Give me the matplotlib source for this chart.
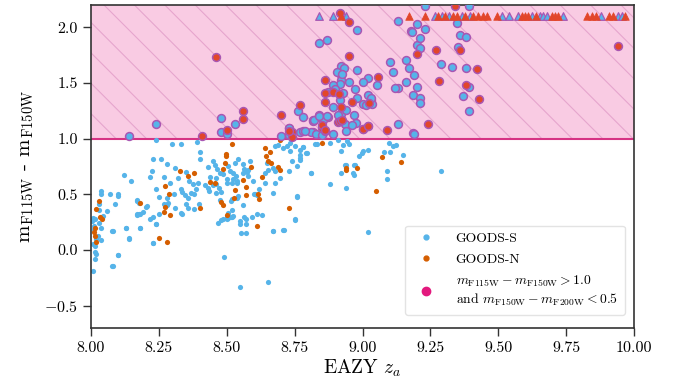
import numpy as np
import matplotlib
matplotlib.use("Agg")
import matplotlib.pyplot as plt
from matplotlib.lines import Line2D

plt.rcParams["font.family"] = "serif"
plt.rcParams["font.serif"] = ["cmr10"]
plt.rcParams["mathtext.fontset"] = "cm"
plt.rcParams["axes.formatter.use_mathtext"] = True

# --- GOODS-S (below the colour cut) ---
s_z = [8.24, 8.30, 8.33, 8.39, 8.40, 8.40, 8.228, 8.259, 8.28, 8.226, 8.217, 8.12, 8.149, 8.269,
       8.319, 8.241, 8.251, 8.279, 8.306, 8.284, 8.33, 8.335, 8.345, 8.357, 8.367, 8.38, 8.388,
       8.377, 8.395, 8.357, 8.38, 8.398, 8.171, 8.176, 8.204, 8.19, 8.219, 8.24, 8.177, 8.17,
       8.179, 8.129, 8.139, 8.228, 8.038, 8.038, 8.069, 8.10, 8.10, 8.09, 8.059, 8.044, 8.038,
       8.016, 8.008, 8.079, 8.038, 8.014, 8.02, 8.014, 8.10, 8.079, 8.007, 8.005, 8.01, 8.012,
       8.02, 8.006, 8.015, 8.03, 8.03, 8.03, 8.025, 8.08, 8.082, 8.098, 8.14, 8.128, 8.18, 8.17,
       8.18, 8.17, 8.206, 8.23, 8.24, 8.23, 8.25, 8.27, 8.28, 8.31, 8.33, 8.335, 8.35, 8.48, 8.5,
       8.505, 8.515, 8.52, 8.518, 8.515, 8.55, 8.55, 8.551, 8.565, 8.61, 8.60, 8.67, 8.71, 8.75,
       8.76, 8.432, 8.45, 8.455, 8.463, 8.46, 8.462, 8.475, 8.487, 8.43, 8.436, 8.46, 8.478,
       8.475, 8.506, 8.512, 8.524, 8.534, 8.524, 8.539, 8.518, 8.537, 8.50, 8.50, 8.543, 8.53,
       8.559, 8.565, 8.574, 8.586, 8.58, 8.561, 8.518, 8.539, 8.543, 8.559, 8.524, 8.50, 8.485,
       8.469, 8.506, 8.57, 8.57, 8.592, 8.571, 8.629, 8.604, 8.613, 8.598, 8.669, 8.679, 8.696,
       8.672, 8.679, 8.653, 8.641, 8.647, 8.678, 8.69, 8.706, 8.721, 8.733, 8.751, 8.782, 8.733,
       8.77, 8.794, 8.739, 8.76, 8.77, 8.81, 8.825, 8.731, 8.76, 8.752, 8.669, 8.708, 8.49,
       8.549, 8.651, 8.78, 8.792, 8.831, 8.88, 8.911, 8.929, 8.942, 8.951, 8.92, 8.988, 8.997,
       9.003, 9.022, 9.099, 9.111, 9.123, 9.079, 9.15, 8.94, 8.969, 8.92, 8.969, 8.81, 8.88,
       8.94, 9.089, 9.022, 9.29, 8.77, 8.77, 8.937, 8.971, 8.966, 9.10, 9.09, 8.45, 8.47, 8.36,
       8.42, 8.44, 8.62, 8.64, 8.58, 8.31, 8.35, 8.29]
s_y = [0.99, 0.95, 0.955, 0.967, 0.88, 0.82, 0.82, 0.82, 0.776, 0.71, 0.66, 0.67, 0.616, 0.657,
       0.643, 0.544, 0.479, 0.464, 0.50, 0.42, 0.55, 0.52, 0.49, 0.47, 0.515, 0.50, 0.55, 0.59,
       0.60, 0.38, 0.37, 0.41, 0.449, 0.419, 0.387, 0.34, 0.282, 0.238, 0.321, 0.315, 0.196,
       0.199, 0.104, 0.065, 0.529, 0.506, 0.50, 0.505, 0.485, 0.416, 0.35, 0.31, 0.20, 0.28,
       0.29, 0.175, 0.089, 0.04, -0.036, -0.08, -0.045, -0.14, -0.185, 0.26, 0.22, 0.19, 0.10,
       0.05, -0.02, 0.41, 0.36, 0.24, 0.13, 0.17, -0.143, -0.044, 0.101, 0.2, 0.2, 0.32, 0.32,
       0.44, 0.393, 0.30, 0.23, 0.066, 0.32, 0.41, 0.40, 0.378, 0.33, 0.32, 0.41, 0.27, 0.30,
       0.29, 0.30, 0.36, 0.30, 0.44, 0.26, 0.23, 0.155, 0.30, 0.32, 0.50, 0.17, 0.176, 0.274,
       0.48, 0.747, 0.797, 0.768, 0.729, 0.648, 0.589, 0.69, 0.68, 0.559, 0.529, 0.509, 0.52,
       0.449, 0.753, 0.708, 0.693, 0.663, 0.64, 0.619, 0.604, 0.598, 0.634, 0.598, 0.818, 0.782,
       0.776, 0.729, 0.699, 0.797, 0.663, 0.693, 0.455, 0.47, 0.485, 0.401, 0.306, 0.277, 0.283,
       0.247, 0.336, 0.277, 0.232, 0.30, 0.157, 0.312, 0.50, 0.49, 0.619, 0.509, 0.604, 0.648,
       0.738, 0.708, 0.723, 0.693, 0.782, 0.93, 0.946, 0.916, 0.93, 0.96, 0.937, 0.925, 0.887,
       0.857, 0.872, 0.797, 0.759, 0.812, 0.693, 0.955, 0.711, 0.485, 0.277, 0.172, 0.178,
       -0.066, -0.334, -0.283, 0.923, 0.872, 0.953, 0.961, 0.99, 0.94, 0.976, 0.952, 0.887,
       0.842, 0.872, 0.887, 0.902, 0.961, 0.932, 0.946, 0.881, 0.857, 0.762, 0.762, 0.694,
       0.673, 0.694, 0.595, 0.560, 0.640, 0.158, 0.714, 0.90, 0.83, 0.768, 0.768, 0.69, 0.877,
       0.714, 0.58, 0.56, 0.62, 0.58, 0.66, 0.55, 0.60, 0.72, 0.74, 0.70, 0.60]

# --- GOODS-N (below the colour cut) ---
n_z = [8.518, 8.497, 8.499, 8.494, 8.488, 8.438, 8.457, 8.530, 8.528, 8.559, 8.571, 8.571,
       8.588, 8.629, 8.616, 8.620, 8.478, 8.487, 8.50, 8.61, 8.641, 8.645, 8.659, 8.653, 8.662,
       8.690, 8.696, 8.731, 8.696, 8.329, 8.359, 8.38, 8.271, 8.289, 8.40, 8.179, 8.271, 8.269,
       8.29, 8.249, 8.28, 8.03, 8.02, 8.032, 8.041, 8.014, 8.01, 8.014, 8.02, 8.851, 8.939,
       8.981, 9.071, 9.141, 9.05, 8.94]
n_y = [0.955, 0.866, 0.842, 0.782, 0.729, 0.61, 0.604, 0.538, 0.47, 0.628, 0.562, 0.494, 0.747,
       0.657, 0.503, 0.461, 0.431, 0.401, 0.312, 0.217, 0.916, 0.842, 0.878, 0.797, 0.782, 0.747,
       0.723, 0.375, 0.99, 0.711, 0.663, 0.69, 0.574, 0.506, 0.381, 0.419, 0.39, 0.342, 0.315,
       0.11, 0.068, 0.44, 0.366, 0.30, 0.282, 0.202, 0.158, 0.128, 0.068, 0.958, 0.723, 0.738,
       0.836, 0.789, 0.530, 0.74]

# --- Sources passing m_F115W - m_F150W > 1.0 and m_F150W - m_F200W < 0.5 ---
hs_z = [8.140, 8.238, 8.479, 8.479, 8.50, 8.530, 8.700, 8.729, 8.761, 8.780, 8.77, 8.78, 8.816,
        8.819, 8.840, 8.872, 8.841, 8.870, 8.981, 8.92, 8.93, 8.981, 9.021, 9.0, 8.92, 8.92,
        8.917, 8.951, 9.052, 8.893, 8.899, 8.872, 8.972, 8.927, 8.917, 8.98, 9.0, 9.013, 9.021,
        9.03, 9.034, 8.893, 8.92, 8.94, 8.968, 8.819, 8.841, 8.853, 8.73, 8.73, 8.936, 8.94,
        8.976, 9.02, 9.132, 9.187, 9.1, 9.114, 9.13, 9.12, 9.16, 9.16, 9.17, 9.187, 9.2, 9.18,
        9.183, 9.132, 9.2, 9.2, 9.23, 9.349, 9.212, 9.359, 9.381, 9.212, 9.35, 9.19, 9.212,
        9.212, 9.289, 9.331, 9.381, 9.391, 9.371, 9.391, 9.19, 9.229, 9.391, 8.82, 8.838,
        8.868, 8.91, 8.96, 9.03, 9.0, 8.81, 8.83, 8.85, 8.89, 8.79, 8.905, 8.925]
hs_y = [1.021, 1.131, 1.185, 1.057, 1.045, 1.134, 1.02, 1.098, 1.244, 1.199, 1.06, 1.065, 1.057,
        1.164, 1.205, 1.199, 1.863, 1.89, 1.979, 1.652, 1.63, 1.616, 1.542, 1.512, 1.57, 1.53,
        1.49, 1.506, 1.482, 1.48, 1.446, 1.417, 1.446, 1.41, 1.35, 1.369, 1.31, 1.30, 1.39, 1.35,
        1.31, 1.28, 1.22, 1.256, 1.214, 1.161, 1.208, 1.17, 1.10, 1.03, 1.131, 1.065, 1.14,
        1.11, 1.131, 1.05, 1.69, 1.595, 1.458, 1.458, 1.705, 1.512, 1.631, 1.393, 1.467, 1.97,
        1.955, 2.054, 2.03, 1.845, 1.982, 2.042, 1.905, 1.928, 1.914, 1.818, 1.824, 1.571,
        1.363, 1.318, 1.67, 1.643, 1.637, 1.467, 1.387, 1.244, 1.042, 2.19, 2.19, 1.17, 1.20,
        1.2, 1.208, 1.125, 1.363, 1.089, 1.06, 1.04, 1.03, 1.04, 1.07, 1.60, 1.58]
hn_z = [8.459, 8.409, 8.502, 8.560, 8.560, 8.700, 8.742, 8.742, 8.770, 8.862, 8.862, 8.85,
        8.917, 8.950, 8.95, 9.058, 8.89, 8.912, 8.86, 8.96, 9.023, 8.92, 8.85, 8.862, 8.73,
        8.911, 9.0, 9.089, 9.2, 9.271, 9.359, 9.42, 9.28, 9.381, 9.43, 9.24, 9.942, 9.339,
        8.917, 8.923, 9.022, 8.86]
hn_y = [1.732, 1.021, 1.080, 1.25, 1.176, 1.211, 1.06, 1.015, 1.304, 1.53, 1.41, 1.10, 2.13,
        2.047, 1.744, 1.55, 1.417, 1.399, 1.33, 1.333, 1.318, 1.28, 1.125, 1.071, 1.07, 1.149,
        1.089, 1.08, 1.762, 1.795, 1.795, 1.625, 1.521, 1.482, 1.354, 1.131, 1.833, 2.19, 1.155,
        1.17, 1.11, 1.08]

# Upper limits (colour beyond the plotted range), shown at the cap value
cap_y = 2.1
lim_s_z = [8.841, 8.890, 8.94, 9.267, 9.292, 9.32, 9.365, 9.396, 9.513, 9.541, 9.574, 9.623,
           9.654, 9.666, 9.681, 9.737, 9.877, 9.939, 9.955]
lim_n_z = [8.92, 9.17, 9.229, 9.279, 9.304, 9.335, 9.347, 9.378, 9.408, 9.427, 9.443, 9.46,
           9.497, 9.586, 9.599, 9.611, 9.639, 9.697, 9.709, 9.721, 9.826, 9.844, 9.86, 9.909,
           9.924, 9.967]

cut_y = 1.0
x_range = (8.0, 10.0)
y_range = (-0.7, 2.2)
x_ticks = [8.00, 8.25, 8.50, 8.75, 9.00, 9.25, 9.50, 9.75, 10.00]
y_ticks = [-0.5, 0.0, 0.5, 1.0, 1.5, 2.0]

c_s = "#56B4E9"
c_n = "#D55E00"
c_n_sel = "#E2462A"
c_edge = "#A957B3"
c_sel = "#E3197E"

fig = plt.figure(figsize=(6.84, 3.85), dpi=100)
ax = fig.add_axes([0.133, 0.148, 0.794, 0.839])
ax.set_xlim(*x_range)
ax.set_ylim(*y_range)

# shaded selection region with sparse diagonal hatching
ax.axhspan(cut_y, y_range[1], color="#E7298A", alpha=0.24, lw=0, zorder=0)
pos = ax.get_position()
px_per_x = pos.width * fig.get_figwidth() * fig.dpi / (x_range[1] - x_range[0])
px_per_y = pos.height * fig.get_figheight() * fig.dpi / (y_range[1] - y_range[0])
slope = px_per_x / px_per_y
spacing = 0.112
for c in np.arange(7.6, 10.6, spacing):
    xs = np.array([c, c + (y_range[1] - cut_y) / slope])
    ys = y_range[1] - slope * (xs - c)
    ax.plot(xs, ys, color="#D98CBF", lw=0.8, alpha=0.6, zorder=0.5, clip_on=True)
ax.axhline(cut_y, color="#D63384", lw=1.5, zorder=1)

ax.scatter(s_z, s_y, s=14, color=c_s, lw=0, zorder=2)
ax.scatter(n_z, n_y, s=14, color=c_n, lw=0, zorder=2.5)
ax.scatter(hs_z, hs_y, s=32, facecolor=c_s, edgecolor=c_edge, lw=1.1, zorder=3)
ax.scatter(hn_z, hn_y, s=32, facecolor=c_n_sel, edgecolor=c_edge, lw=1.1, zorder=3.5)
ax.scatter(lim_s_z, [cap_y] * len(lim_s_z), marker="^", s=30, facecolor=c_s,
           edgecolor=c_edge, lw=0.9, zorder=3)
ax.scatter(lim_n_z, [cap_y] * len(lim_n_z), marker="^", s=30, facecolor=c_n_sel,
           edgecolor=c_n_sel, lw=0.5, zorder=3.5)

ax.set_xticks(x_ticks)
ax.set_yticks(y_ticks)
ax.xaxis.set_major_formatter(matplotlib.ticker.FormatStrFormatter("%.2f"))
ax.yaxis.set_major_formatter(matplotlib.ticker.FuncFormatter(
    lambda v, p: ("$-$" if v < 0 else "") + "%.1f" % abs(v)))
ax.tick_params(direction="out", length=6, width=1.0, labelsize=11.5, color="#333333")
for sp in ax.spines.values():
    sp.set_color("#333333")
    sp.set_linewidth(1.2)

ax.set_xlabel(r"EAZY $z_a$", fontsize=14, labelpad=2)
ax.set_ylabel(r"$\mathrm{m_{F115W}}$ - $\mathrm{m_{F150W}}$", fontsize=15, labelpad=6)

handles = [
    Line2D([], [], marker="o", ls="", color=c_s, markersize=3.5),
    Line2D([], [], marker="o", ls="", color=c_n, markersize=3.5),
    Line2D([], [], marker="o", ls="", color=c_sel, markersize=6),
]
labels = ["GOODS-S", "GOODS-N",
          r"$m_{\rm F115W} - m_{\rm F150W} > 1.0$" + "\n" +
          r"and $m_{\rm F150W} - m_{\rm F200W} < 0.5$"]
leg = ax.legend(handles, labels, loc="lower right", fontsize=9.8, frameon=True,
                fancybox=True, borderpad=0.5, handletextpad=1.2, labelspacing=0.6,
                bbox_to_anchor=(0.995, 0.02))
leg.get_frame().set_edgecolor("#dddddd")

fig.savefig("out.png", dpi=100)
